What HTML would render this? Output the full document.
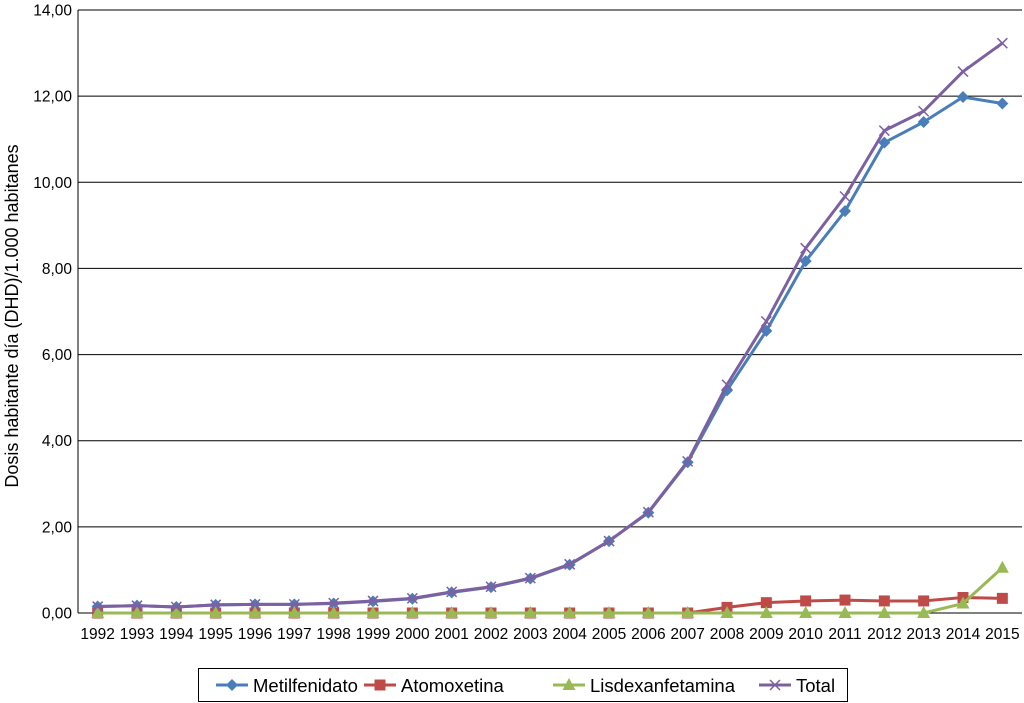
<!DOCTYPE html>
<html><head><meta charset="utf-8"><style>
html,body{margin:0;padding:0;background:#fff}
svg{display:block;font-family:"Liberation Sans",sans-serif}
</style></head><body>
<svg id="chart" width="1024" height="703" xmlns="http://www.w3.org/2000/svg"></svg>
<script>
const years=["1992","1993","1994","1995","1996","1997","1998","1999","2000","2001","2002","2003","2004","2005","2006","2007","2008","2009","2010","2011","2012","2013","2014","2015"];
const metil=[0.15,0.17,0.14,0.19,0.2,0.2,0.22,0.27,0.33,0.48,0.6,0.8,1.12,1.67,2.33,3.5,5.17,6.55,8.17,9.33,10.92,11.4,11.98,11.83];
const atomox=[0,0,0,0,0,0,0,0,0,0,0,0,0,0,0,0,0.13,0.24,0.28,0.3,0.28,0.28,0.36,0.34];
const lisdex=[0,0,0,0,0,0,0,0,0,0,0,0,0,0,0,0,0,0,0,0,0,0,0.22,1.05];
const total=[0.15,0.17,0.14,0.19,0.2,0.2,0.23,0.28,0.34,0.49,0.61,0.81,1.13,1.67,2.34,3.52,5.3,6.77,8.47,9.67,11.2,11.65,12.57,13.23];
const yTicks=[0,2,4,6,8,10,12,14];
const yTickLabels=["0,00","2,00","4,00","6,00","8,00","10,00","12,00","14,00"];

const NS="http://www.w3.org/2000/svg";
const svg=document.getElementById("chart");
const X0=78,X1=1022,Y0=613,Y1=10;
const bw=(X1-X0)/years.length;
const xs=i=>X0+bw*(i+0.5);
const ys=v=>Y0-(v/14)*(Y0-Y1);
function mk(t,a,p){const e=document.createElementNS(NS,t);for(const k in a)e.setAttribute(k,a[k]);(p||svg).appendChild(e);return e;}

const grid=mk("g",{});


yTicks.forEach((v,i)=>{
  if(v>0){mk("line",{x1:X0,x2:X1,y1:ys(v),y2:ys(v),stroke:"#000","stroke-width":1},grid);}
  const t=mk("text",{x:72,y:ys(v)+5.5,"text-anchor":"end","font-size":15.5,fill:"#000"});
  t.textContent=yTickLabels[i];
  
  
});
const ax=mk("line",{x1:X0,x2:X0,y1:Y1,y2:Y0,stroke:"#000"});


const xa=mk("line",{x1:X0,x2:X1,y1:Y0,y2:Y0,stroke:"#000"});


years.forEach((y,i)=>{
  const t=mk("text",{x:xs(i),y:639,"text-anchor":"middle","font-size":15.5,fill:"#000"});
  t.textContent=y;
  
  
});
const yt=mk("text",{x:0,y:0,transform:"translate(18,316) rotate(-90)","text-anchor":"middle","font-size":18,fill:"#000"});
yt.textContent="Dosis habitante día (DHD)/1.000 habitanes";



function marker(type,x,y,c,g){
  if(type==="d") mk("polygon",{points:`${x},${y-6} ${x+6},${y} ${x},${y+6} ${x-6},${y}`,fill:c},g);
  else if(type==="s") mk("rect",{x:x-5.5,y:y-5.5,width:11,height:11,fill:c},g);
  else if(type==="t") mk("polygon",{points:`${x},${y-7} ${x+6.5},${y+5} ${x-6.5},${y+5}`,fill:c},g);
  else {mk("path",{d:`M${x-5} ${y-5}L${x+5} ${y+5}M${x-5} ${y+5}L${x+5} ${y-5}`,stroke:c,"stroke-width":1.5,fill:"none"},g);}
}
const series=[["metilfenidato",metil,"#4a7ebb","d"],["atomoxetina",atomox,"#be4b48","s"],["lisdexanfetamina",lisdex,"#98b954","t"],["total",total,"#7d60a0","x"]];
series.forEach(([n,d,c,m])=>{
  const g=mk("g",{});
  
  
  mk("polyline",{points:d.map((v,i)=>xs(i)+","+ys(v)).join(" "),fill:"none",stroke:c,"stroke-width":3,"stroke-linejoin":"round"},g);
  d.forEach((v,i)=>marker(m,xs(i),ys(v),c,g));
});

const lg=mk("g",{});


mk("rect",{x:198.5,y:668.5,width:649,height:33,fill:"#fff",stroke:"#000","stroke-width":1},lg);
const items=[["Metilfenidato",216,"#4a7ebb","d"],["Atomoxetina",364,"#be4b48","s"],["Lisdexanfetamina",553,"#98b954","t"],["Total",759,"#7d60a0","x"]];
items.forEach(([t,x,c,m])=>{
  const g=mk("g",{},lg);
  
  
  mk("line",{x1:x,x2:x+32,y1:685,y2:685,stroke:c,"stroke-width":3},g);
  marker(m,x+16,685,c,g);
  const tx=mk("text",{x:x+37,y:692,"font-size":18.5,fill:"#000"},g);
  tx.textContent=t;
});
</script>
</body></html>
